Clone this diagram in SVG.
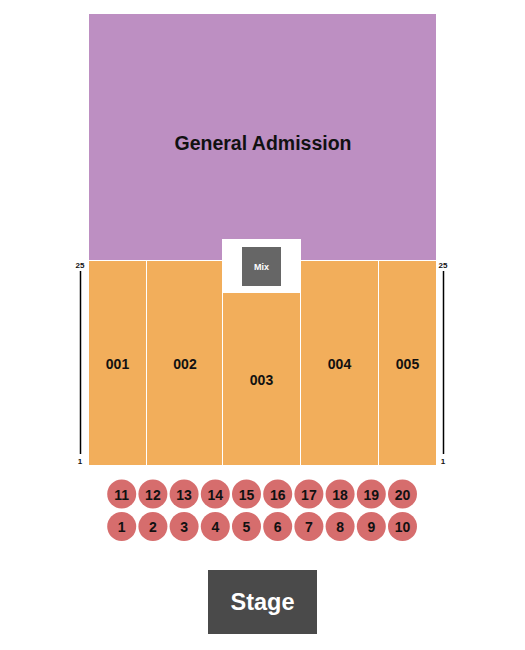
<svg xmlns="http://www.w3.org/2000/svg" width="525" height="650" viewBox="0 0 525 650">
<style>
text{font-family:"Liberation Sans",Arial,sans-serif;font-weight:bold;text-anchor:middle;dominant-baseline:central}
.sec{fill:#F2AE5B}
.lbl{font-size:14px;fill:#111}
.seat{fill:#D66D6D}
.sn{font-size:14px;fill:#111}
.scale{stroke:#000;stroke-width:1.5}
.st{font-size:8px;fill:#111}
</style>
<rect width="525" height="650" fill="#fff"/>
<g id="ga"><rect x="89" y="14" width="347" height="246" fill="#BD8FC2"/><text x="263" y="143" font-size="19.5" fill="#111">General Admission</text></g>
<g id="mixarea"><rect x="222" y="239" width="79" height="54" fill="#fff"/><rect x="242" y="247" width="39" height="39" fill="#666"/><text x="261.5" y="267" font-size="9" fill="#fff">Mix</text></g>
<g id="s001"><rect class="sec" x="89" y="261" width="57" height="204"/><text class="lbl" x="117.5" y="364">001</text></g>
<g id="s002"><rect class="sec" x="147" y="261" width="75" height="204"/><text class="lbl" x="185" y="364">002</text></g>
<g id="s003"><rect class="sec" x="223" y="293" width="77" height="172"/><text class="lbl" x="261.5" y="380">003</text></g>
<g id="s004"><rect class="sec" x="301" y="261" width="77" height="204"/><text class="lbl" x="339.5" y="364">004</text></g>
<g id="s005"><rect class="sec" x="379" y="261" width="57" height="204"/><text class="lbl" x="407.5" y="364">005</text></g>
<g id="scaleL"><line class="scale" x1="80.5" y1="271" x2="80.5" y2="454"/><text class="st" x="80" y="265">25</text><text class="st" x="80" y="461">1</text></g>
<g id="scaleR"><line class="scale" x1="443.5" y1="271" x2="443.5" y2="454"/><text class="st" x="443" y="265">25</text><text class="st" x="443" y="461">1</text></g>
<g id="seats">
<g id="t11"><circle class="seat" cx="121.7" cy="494" r="14.5"/><text class="sn" x="121.7" y="494.5">11</text></g>
<g id="t12"><circle class="seat" cx="152.9" cy="494" r="14.5"/><text class="sn" x="152.9" y="494.5">12</text></g>
<g id="t13"><circle class="seat" cx="184.1" cy="494" r="14.5"/><text class="sn" x="184.1" y="494.5">13</text></g>
<g id="t14"><circle class="seat" cx="215.3" cy="494" r="14.5"/><text class="sn" x="215.3" y="494.5">14</text></g>
<g id="t15"><circle class="seat" cx="246.5" cy="494" r="14.5"/><text class="sn" x="246.5" y="494.5">15</text></g>
<g id="t16"><circle class="seat" cx="277.7" cy="494" r="14.5"/><text class="sn" x="277.7" y="494.5">16</text></g>
<g id="t17"><circle class="seat" cx="308.9" cy="494" r="14.5"/><text class="sn" x="308.9" y="494.5">17</text></g>
<g id="t18"><circle class="seat" cx="340.1" cy="494" r="14.5"/><text class="sn" x="340.1" y="494.5">18</text></g>
<g id="t19"><circle class="seat" cx="371.3" cy="494" r="14.5"/><text class="sn" x="371.3" y="494.5">19</text></g>
<g id="t20"><circle class="seat" cx="402.5" cy="494" r="14.5"/><text class="sn" x="402.5" y="494.5">20</text></g>
<g id="t1"><circle class="seat" cx="121.7" cy="526.5" r="14.5"/><text class="sn" x="121.7" y="527">1</text></g>
<g id="t2"><circle class="seat" cx="152.9" cy="526.5" r="14.5"/><text class="sn" x="152.9" y="527">2</text></g>
<g id="t3"><circle class="seat" cx="184.1" cy="526.5" r="14.5"/><text class="sn" x="184.1" y="527">3</text></g>
<g id="t4"><circle class="seat" cx="215.3" cy="526.5" r="14.5"/><text class="sn" x="215.3" y="527">4</text></g>
<g id="t5"><circle class="seat" cx="246.5" cy="526.5" r="14.5"/><text class="sn" x="246.5" y="527">5</text></g>
<g id="t6"><circle class="seat" cx="277.7" cy="526.5" r="14.5"/><text class="sn" x="277.7" y="527">6</text></g>
<g id="t7"><circle class="seat" cx="308.9" cy="526.5" r="14.5"/><text class="sn" x="308.9" y="527">7</text></g>
<g id="t8"><circle class="seat" cx="340.1" cy="526.5" r="14.5"/><text class="sn" x="340.1" y="527">8</text></g>
<g id="t9"><circle class="seat" cx="371.3" cy="526.5" r="14.5"/><text class="sn" x="371.3" y="527">9</text></g>
<g id="t10"><circle class="seat" cx="402.5" cy="526.5" r="14.5"/><text class="sn" x="402.5" y="527">10</text></g>
</g>
<g id="stage"><rect x="208" y="570" width="109" height="64" fill="#4A4A4A"/><text x="262.5" y="602" font-size="23.5" fill="#fff">Stage</text></g>
</svg>
